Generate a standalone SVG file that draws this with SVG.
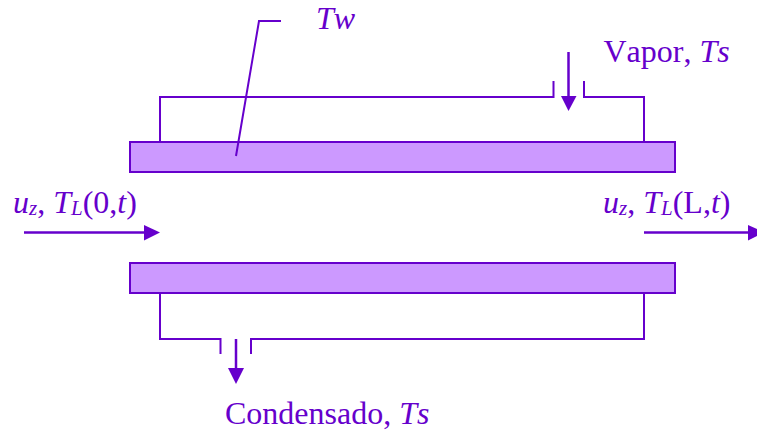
<svg xmlns="http://www.w3.org/2000/svg" width="757" height="432" viewBox="0 0 757 432">
<defs>
<style>
text{font-family:"Liberation Serif","Times New Roman",serif;font-size:32px;font-kerning:none;fill:#6600cc}
.i{font-style:italic}
.sub{font-size:21px;font-style:italic}
.wall{fill:#cc99ff;stroke:#6600cc;stroke-width:2}
.ln{fill:none;stroke:#6600cc;stroke-width:2}
.flow{fill:none;stroke:#6600cc;stroke-width:2.5}
.hd{fill:#6600cc}
</style>
</defs>
<rect width="757" height="432" fill="#fff"/>
<g id="wall-top"><rect class="wall" x="130" y="142" width="545" height="30"/></g>
<g id="wall-bottom"><rect class="wall" x="130" y="263" width="545" height="30"/></g>
<g id="connectors">
<path class="ln" d="M160 142V97H553.500V81"/>
<path class="ln" d="M584 81V97H644V142"/>
<path class="ln" d="M160 293V339H220.500V354"/>
<path class="ln" d="M251 354V339H644V293"/>
<path class="ln" d="M281 21H259L236 156"/>
<path class="flow" d="M568.500 52V98"/><path class="hd" d="M561 96H576.500L568.500 111Z"/>
<path class="flow" d="M236 339V370"/><path class="hd" d="M228 368H244L236 384Z"/>
<path class="flow" d="M24 232.500H146"/><path class="hd" d="M144 225V240.500L160 232.500Z"/>
<path class="flow" d="M644 232.500H750"/><path class="hd" d="M748 225V240.500L757 236V229Z"/>
</g>
<g id="label-tw"><text class="i" x="316" y="29">Tw</text></g>
<g id="label-vapor"><text x="603.500" y="62">Vapor, <tspan class="i">Ts</tspan></text></g>
<g id="label-inlet"><text x="13" y="213"><tspan class="i">u</tspan><tspan class="sub" dy="2">z</tspan><tspan dy="-2">, </tspan><tspan class="i">T</tspan><tspan class="sub" dy="2">L</tspan><tspan dy="-2">(0,</tspan><tspan class="i">t</tspan>)</text></g>
<g id="label-outlet"><text x="603" y="213"><tspan class="i">u</tspan><tspan class="sub" dy="2">z</tspan><tspan dy="-2">, </tspan><tspan class="i">T</tspan><tspan class="sub" dy="2">L</tspan><tspan dy="-2">(L,</tspan><tspan class="i">t</tspan>)</text></g>
<g id="label-condensado"><text x="225" y="424">Condensado, <tspan class="i">Ts</tspan></text></g>
</svg>
